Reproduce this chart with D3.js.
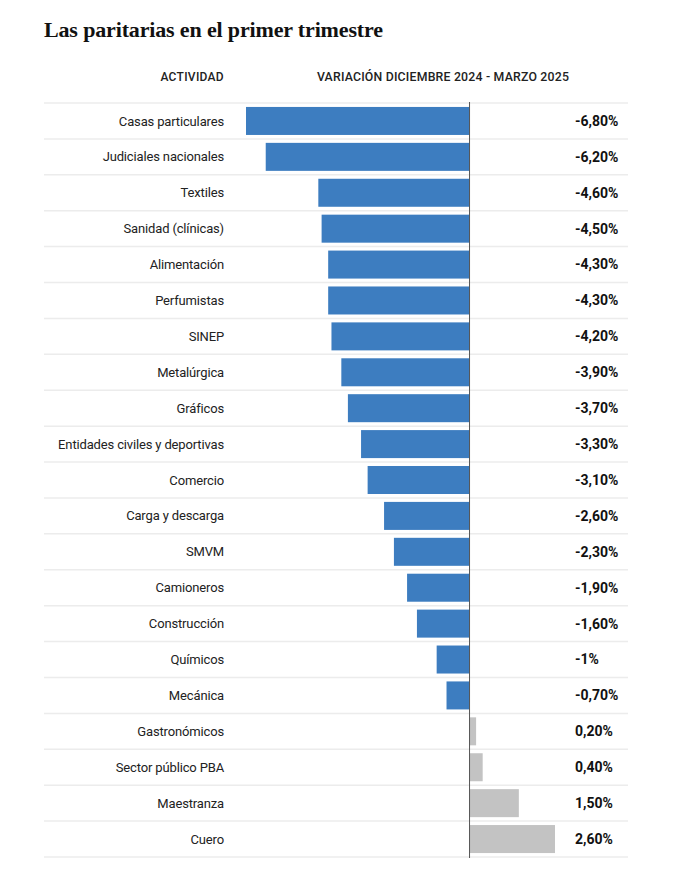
<!DOCTYPE html>
<html>
<head>
<meta charset="utf-8">
<script src="https://cdn.jsdelivr.net/npm/d3@7"></script>
<style>
  body { margin: 0; background: #fff; }
  #chart svg { display: block; }
</style>
</head>
<body>
<div id="chart"></div>
<script>
// Data
var actividades = ["Casas particulares", "Judiciales nacionales", "Textiles", "Sanidad (clínicas)",
    "Alimentación", "Perfumistas", "SINEP", "Metalúrgica", "Gráficos",
    "Entidades civiles y deportivas", "Comercio", "Carga y descarga", "SMVM", "Camioneros",
    "Construcción", "Químicos", "Mecánica", "Gastronómicos", "Sector público PBA",
    "Maestranza", "Cuero"];
var variacion = [-6.8, -6.2, -4.6, -4.5, -4.3, -4.3, -4.2, -3.9, -3.7, -3.3, -3.1, -2.6,
    -2.3, -1.9, -1.6, -1, -0.7, 0.2, 0.4, 1.5, 2.6];
var etiquetas = ["-6,80%", "-6,20%", "-4,60%", "-4,50%", "-4,30%", "-4,30%", "-4,20%",
    "-3,90%", "-3,70%", "-3,30%", "-3,10%", "-2,60%", "-2,30%", "-1,90%", "-1,60%", "-1%",
    "-0,70%", "0,20%", "0,40%", "1,50%", "2,60%"];

window.onload = function() {
    barChart();
};

function barChart() {
    var w = 673;
    var h = 877;

    var svg = d3.select("#chart")
                .append("svg")
                .attr("width", w)
                .attr("height", h);

    // Title
    svg.append("text")
       .attr("x", 44)
       .attr("y", 37)
       .attr("font-family", "'Liberation Serif', serif")
       .attr("font-weight", "bold")
       .attr("font-size", 22)
       .attr("letter-spacing", -0.15)
       .attr("fill", "#111")
       .text("Las paritarias en el primer trimestre");

    // Column headers
    svg.append("text")
       .attr("x", 224)
       .attr("y", 81)
       .attr("text-anchor", "end")
       .attr("font-family", "Roboto, sans-serif")
       .attr("font-weight", 500)
       .attr("font-size", 12)
       .attr("letter-spacing", 0.3)
       .attr("fill", "#222")
       .text("ACTIVIDAD");

    svg.append("text")
       .attr("x", 443)
       .attr("y", 81)
       .attr("text-anchor", "middle")
       .attr("font-family", "Roboto, sans-serif")
       .attr("font-weight", 500)
       .attr("font-size", 12.3)
       .attr("letter-spacing", 0.2)
       .attr("fill", "#222")
       .text("VARIACIÓN DICIEMBRE 2024 - MARZO 2025");

    var x = d3.scaleLinear()
              .domain([-6.8, 2.6])
              .range([246, 555]);

    var y = d3.scaleBand()
              .domain(actividades)
              .range([103, 857])
              .paddingInner(0.22)
              .paddingOuter(0.11);

    var step = y.step();

    // Row separators
    svg.selectAll("line.sep")
       .data(actividades)
       .enter()
       .append("line")
       .attr("class", "sep")
       .attr("x1", 44)
       .attr("x2", 628)
       .attr("y1", function(d, i) { return 103 + i * step; })
       .attr("y2", function(d, i) { return 103 + i * step; })
       .attr("stroke", "#ececec")
       .attr("stroke-width", 1.5);

    svg.append("line")
       .attr("x1", 44)
       .attr("x2", 628)
       .attr("y1", 103 + actividades.length * step)
       .attr("y2", 103 + actividades.length * step)
       .attr("stroke", "#ececec")
       .attr("stroke-width", 1.5);

    // Bars
    svg.selectAll("rect")
       .data(variacion)
       .enter()
       .append("rect")
       .attr("x", function(d) { return x(Math.min(0, d)); })
       .attr("y", function(d, i) { return y(actividades[i]); })
       .attr("width", function(d) { return Math.abs(x(d) - x(0)); })
       .attr("height", y.bandwidth())
       .attr("fill", function(d) {
           return d < 0 ? "#3d7dc0" : "#c3c3c3";
       });

    // Zero line
    svg.append("line")
       .attr("x1", x(0))
       .attr("x2", x(0))
       .attr("y1", 102)
       .attr("y2", 858)
       .attr("stroke", "#555")
       .attr("stroke-width", 1);

    // Category labels
    svg.selectAll("text.cat")
       .data(actividades)
       .enter()
       .append("text")
       .attr("class", "cat")
       .attr("x", 224)
       .attr("y", function(d) { return y(d) + y.bandwidth() / 2; })
       .attr("dy", "0.35em")
       .attr("text-anchor", "end")
       .attr("font-family", "Roboto, sans-serif")
       .attr("font-size", 13)
       .attr("letter-spacing", -0.15)
       .attr("fill", "#222")
       .text(function(d) { return d; });

    // Value labels
    svg.selectAll("text.val")
       .data(etiquetas)
       .enter()
       .append("text")
       .attr("class", "val")
       .attr("x", 575)
       .attr("y", function(d, i) { return y(actividades[i]) + y.bandwidth() / 2; })
       .attr("dy", "0.35em")
       .attr("font-family", "Roboto, sans-serif")
       .attr("font-weight", "bold")
       .attr("font-size", 14)
       .attr("fill", "#111")
       .text(function(d) { return d; });
}
</script>
</body>
</html>
